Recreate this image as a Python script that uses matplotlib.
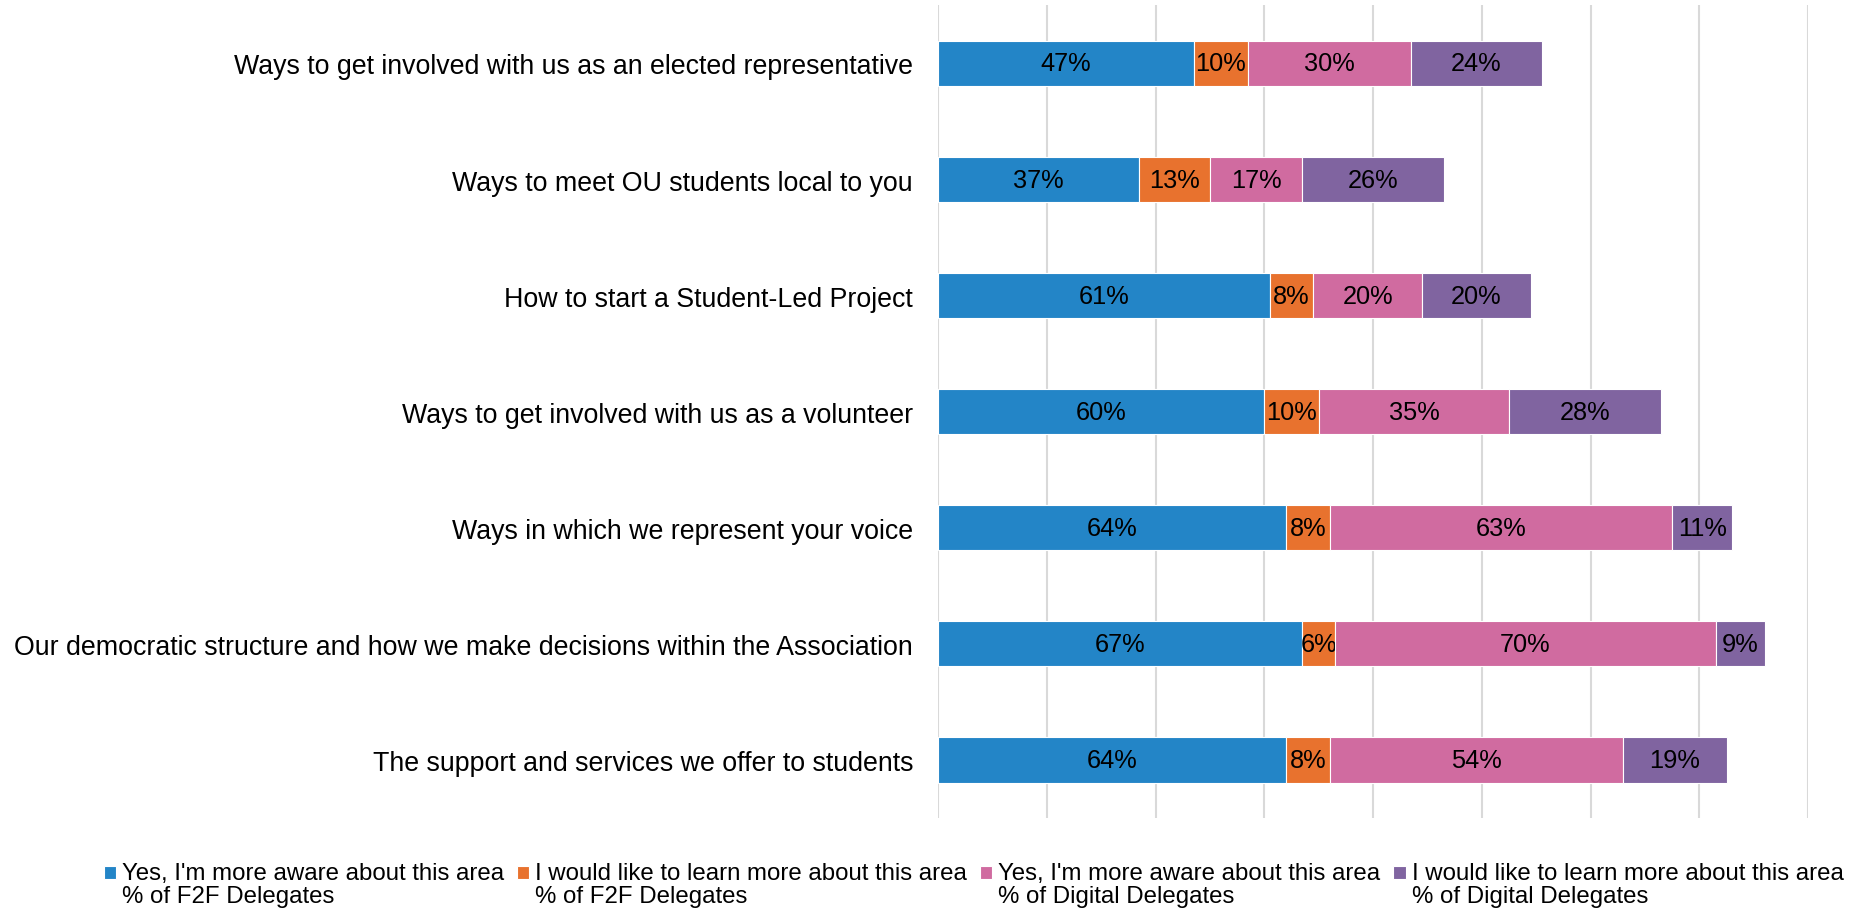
import numpy as np
import matplotlib.pyplot as plt

plt.rcParams['font.family'] = ['Liberation Sans', 'DejaVu Sans']

categories = [
    'Ways to get involved with us as an elected representative',
    'Ways to meet OU students local to you',
    'How to start a Student-Led Project',
    'Ways to get involved with us as a volunteer',
    'Ways in which we represent your voice',
    'Our democratic structure and how we make decisions within the Association',
    'The support and services we offer to students',
]
f2f_aware = [47, 37, 61, 60, 64, 67, 64]
f2f_learn = [10, 13, 8, 10, 8, 6, 8]
digital_aware = [30, 17, 20, 35, 63, 70, 54]
digital_learn = [24, 26, 20, 28, 11, 9, 19]

series = [
    ("Yes, I'm more aware about this area\n% of F2F Delegates", f2f_aware, '#2385c7'),
    ("I would like to learn more about this area\n% of F2F Delegates", f2f_learn, '#e8722e'),
    ("Yes, I'm more aware about this area\n% of Digital Delegates", digital_aware, '#d06ba0'),
    ("I would like to learn more about this area\n% of Digital Delegates", digital_learn, '#8064a0'),
]

fig = plt.figure(figsize=(18.65, 9.12), dpi=100)
ax = fig.add_axes([0.503, 0.102, 0.4665, 0.891])

y = np.arange(len(categories))
left = np.zeros(len(categories))
for label, vals, color in series:
    vals = np.array(vals, dtype=float)
    bars = ax.barh(y, vals, left=left, height=0.39, color=color,
                   edgecolor='white', linewidth=0.8, label=label, zorder=3)
    ax.bar_label(bars, labels=[f'{v:.0f}%' for v in vals], label_type='center',
                 fontsize=18.3, color='black')
    left += vals

ax.set_xlim(0, 160)
ax.set_ylim(len(categories) - 0.5, -0.5)
ax.set_xticks(np.arange(0, 161, 20))
ax.set_xticklabels([])
ax.set_yticks(y)
ax.set_yticklabels(categories, fontsize=19.3)
ax.tick_params(axis='both', length=0)
ax.tick_params(axis='y', pad=18)
ax.grid(axis='x', color='#d9d9d9', linewidth=1.5, zorder=0)
for s in ax.spines.values():
    s.set_visible(False)

leg = fig.legend(loc='lower center', bbox_to_anchor=(0.522, -0.014), ncol=4, frameon=False,
                 fontsize=17.3, handlelength=0.5, handleheight=0.5, handletextpad=0.25,
                 columnspacing=0.55, borderaxespad=0.3)
for t in leg.get_texts():
    t.set_linespacing(1.08)
# square sits next to the first line of each two-line entry
for h in leg.legend_handles:
    h.set_y(h.get_y() + 8.5)

fig.savefig('out.png', dpi=100)
